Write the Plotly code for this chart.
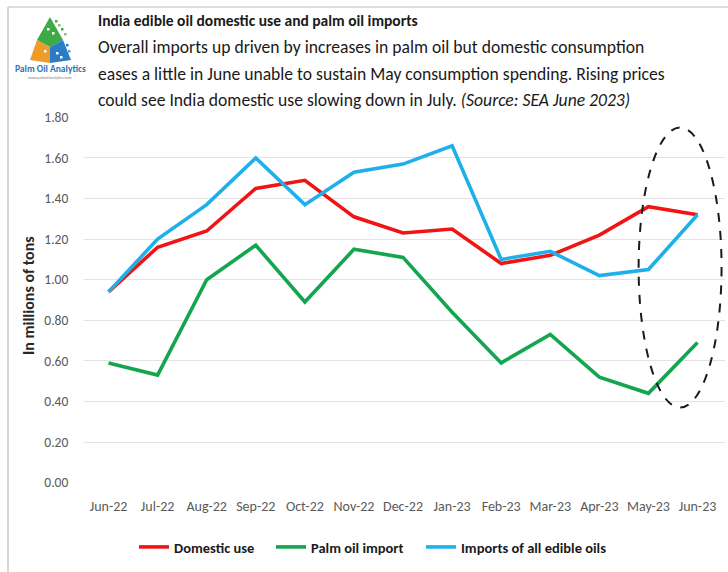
import plotly.graph_objects as go

# Monthly series, millions of tons
months = ["Jun-22", "Jul-22", "Aug-22", "Sep-22", "Oct-22", "Nov-22", "Dec-22",
          "Jan-23", "Feb-23", "Mar-23", "Apr-23", "May-23", "Jun-23"]
domestic_use = [0.94, 1.16, 1.24, 1.45, 1.49, 1.31, 1.23, 1.25, 1.08, 1.12, 1.22, 1.36, 1.32]
palm_oil_import = [0.59, 0.53, 1.00, 1.17, 0.89, 1.15, 1.11, 0.84, 0.59, 0.73, 0.52, 0.44, 0.69]
all_edible_imports = [0.94, 1.20, 1.37, 1.60, 1.37, 1.53, 1.57, 1.66, 1.10, 1.14, 1.02, 1.05, 1.32]
y_ticks = [0.0, 0.2, 0.4, 0.6, 0.8, 1.0, 1.2, 1.4, 1.6, 1.8]

W, H = 728, 572
ML, MR, MT, MB = 84, 3, 117, 89
PW, PH = W - ML - MR, H - MT - MB

FONT = "Carlito, Liberation Sans Narrow, Lato, sans-serif"


def px(x):
    return (x - ML) / PW


def py(y):
    return (H - MB - y) / PH


x_idx = list(range(len(months)))

fig = go.Figure()
series = [
    ("Domestic use", domestic_use, "#F01414", "legend", 134),
    ("Palm oil import", palm_oil_import, "#14A64F", "legend2", 271),
    ("Imports of all edible oils", all_edible_imports, "#1FB0EA", "legend3", 421),
]
legend_layouts = {}
for name, vals, color, leg, leg_x in series:
    fig.add_trace(go.Scatter(
        x=x_idx, y=vals, name=name, mode="lines",
        line=dict(color=color, width=3.6), legend=leg,
    ))
    legend_layouts[leg] = dict(
        orientation="h", x=px(leg_x), y=py(547), xanchor="left", yanchor="middle",
        font=dict(size=14.5, color="#1A1A1A", family=FONT, weight="bold"),
        itemwidth=30, bgcolor="rgba(0,0,0,0)",
    )

shapes = []
# outer frame (left and top edges)
shapes.append(dict(type="line", xref="paper", yref="paper",
                   x0=px(8), x1=px(8), y0=py(572), y1=py(7),
                   line=dict(color="#BDBDBD", width=1.2), layer="below"))
shapes.append(dict(type="line", xref="paper", yref="paper",
                   x0=px(8), x1=px(728), y0=py(7), y1=py(7),
                   line=dict(color="#BDBDBD", width=1.2), layer="below"))
# dashed ellipse highlighting the latest months
shapes.append(dict(type="circle", xref="x", yref="y",
                   x0=10.8, x1=12.49, y0=0.37, y1=1.75,
                   line=dict(color="#1A1A1A", width=2, dash="dash")))

# logo: pixel pyramid
logo_parts = [
    ("M 50 17 L 63 40 L 50 47 L 37 40 Z", "#3DAA45"),
    ("M 37 40 L 50 47 L 50 63 L 30 60 Z", "#F09A2A"),
    ("M 63 40 L 50 47 L 50 63 L 71 60 Z", "#2A7CC7"),
]
for path, color in logo_parts:
    pts = path.replace("M", "").replace("Z", "").split("L")
    conv = []
    for p in pts:
        a, b = p.split()
        conv.append(f"{px(float(a)):.5f},{py(float(b)):.5f}")
    d = "M " + " L ".join(conv) + " Z"
    shapes.append(dict(type="path", xref="paper", yref="paper", path=d,
                       fillcolor=color, line=dict(width=0)))
# scattered pixels of the logo
for (a, b, c) in [(55, 20, "#3DAA45"), (58, 24, "#7CC576"), (61, 28, "#3DAA45"),
                  (64, 33, "#7CC576"), (66, 44, "#2A7CC7"), (68, 50, "#5B9BD5"),
                  (44, 50, "#FFFFFF"), (56, 52, "#FFFFFF"), (60, 56, "#FFFFFF"),
                  (52, 32, "#FFFFFF"), (47, 28, "#FFFFFF")]:
    shapes.append(dict(type="rect", xref="paper", yref="paper",
                       x0=px(a), x1=px(a + 2.5), y0=py(b + 2.5), y1=py(b),
                       fillcolor=c, line=dict(width=0)))

annotations = [
    dict(text="<b>India edible oil domestic use and palm oil imports</b>",
         x=px(96), y=py(20), xanchor="left", yanchor="middle",
         font=dict(size=15.5, color="#1A1A1A", family=FONT)),
    dict(text="Overall imports up driven by increases in palm oil but domestic consumption",
         x=px(96), y=py(47), xanchor="left", yanchor="middle",
         font=dict(size=17.6, color="#1A1A1A", family=FONT)),
    dict(text="eases a little in June unable to sustain May consumption spending. Rising prices",
         x=px(96), y=py(74), xanchor="left", yanchor="middle",
         font=dict(size=17.6, color="#1A1A1A", family=FONT)),
    dict(text="could see India domestic use slowing down in July. <i>(Source: SEA June 2023)</i>",
         x=px(96), y=py(100), xanchor="left", yanchor="middle",
         font=dict(size=17.6, color="#1A1A1A", family=FONT)),
    dict(text="<b>Palm Oil Analytics</b>",
         x=px(50), y=py(69), xanchor="center", yanchor="middle",
         font=dict(size=9.5, color="#2E75B6", family=FONT)),
    dict(text="www.palmoilanalytics.com",
         x=px(50), y=py(77), xanchor="center", yanchor="middle",
         font=dict(size=4, color="#808080", family=FONT)),
    dict(text="<b>In millions of tons</b>", textangle=-90,
         x=px(28), y=py(296), xanchor="center", yanchor="middle",
         font=dict(size=16, color="#262626", family=FONT)),
]
for a in annotations:
    a.setdefault("xref", "paper")
    a.setdefault("yref", "paper")
    a["showarrow"] = False

fig.update_layout(
    width=W, height=H,
    margin=dict(l=ML, r=MR, t=MT, b=MB),
    paper_bgcolor="white", plot_bgcolor="white",
    font=dict(family=FONT, color="#595959"),
    shapes=shapes, annotations=annotations,
    showlegend=True,
    xaxis=dict(
        tickmode="array", tickvals=x_idx, ticktext=months,
        range=[-0.5, 12.56], showgrid=False, zeroline=False, showline=False,
        tickfont=dict(size=14, color="#595959", family=FONT),
        ticks="outside", ticklen=10, tickcolor="rgba(0,0,0,0)",
        ticklabeloverflow="allow",
    ),
    yaxis=dict(
        tickmode="array", tickvals=y_ticks, tickformat=".2f",
        range=[-0.002, 1.802], showgrid=True, gridcolor="#E3E3E3", gridwidth=1.2,
        zeroline=False, showline=False,
        tickfont=dict(size=13.5, color="#595959", family=FONT),
        ticks="outside", ticklen=12, tickcolor="rgba(0,0,0,0)",
    ),
    **legend_layouts,
)

fig.write_html("out.html")
